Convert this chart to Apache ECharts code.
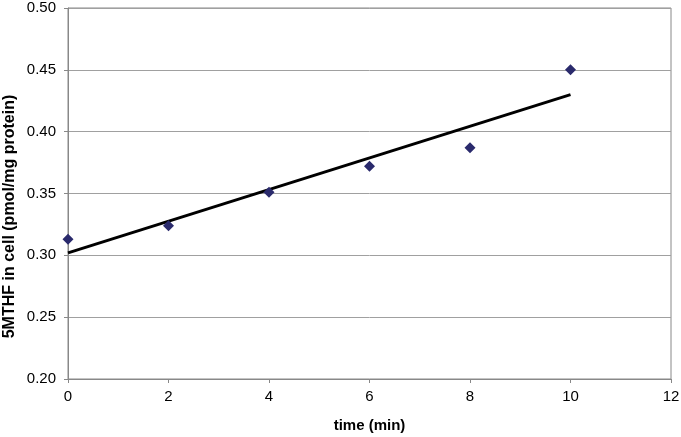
<!DOCTYPE html>
<html>
<head>
<meta charset="utf-8">
<style>
    html, body { margin: 0; padding: 0; background: #fff; }
    #chart { width: 681px; height: 437px; }
</style>
<script src="https://cdn.jsdelivr.net/npm/echarts@6/dist/echarts.min.js"></script>
</head>
<body>
<div id="chart"></div>
<script>
    // measured points
    var times = [0, 2, 4, 6, 8, 10];
    var mthf = [0.313, 0.324, 0.351, 0.372, 0.387, 0.450];
    // linear trend line end points
    var trendX = [0, 10];
    var trendY = [0.302, 0.430];

    var chart = echarts.init(document.getElementById('chart'));

    var option = {
        animation: false,
        grid: {
            left: 68,
            right: 10,
            top: 8,
            bottom: 58,
            outerBoundsMode: 'none',
            containLabel: false,
            show: true,
            borderColor: '#888',
            borderWidth: 1
        },
        xAxis: {
            type: 'value',
            min: 0,
            max: 12,
            interval: 2,
            name: 'time (min)',
            nameLocation: 'middle',
            nameGap: 39,
            nameTextStyle: { fontFamily: 'Liberation Sans', fontWeight: 'bold', fontSize: 15, color: '#000' },
            axisLine: { show: true, lineStyle: { color: '#888' } },
            axisTick: { show: true, length: 4, lineStyle: { color: '#888' } },
            axisLabel: { fontFamily: 'Liberation Sans', fontSize: 15, color: '#000', margin: 10 },
            splitLine: { show: false }
        },
        yAxis: {
            type: 'value',
            min: 0.20,
            max: 0.50,
            interval: 0.05,
            name: '5MTHF in cell (pmol/mg protein)',
            nameLocation: 'middle',
            nameGap: 50,
            nameMoveOverlap: false,
            nameTextStyle: {
                fontFamily: 'Liberation Sans', fontWeight: 'bold', fontSize: 16, color: '#000',
                padding: [0, 46, 0, 0]
            },
            axisLine: { show: true, lineStyle: { color: '#888' } },
            axisTick: { show: true, length: 4, lineStyle: { color: '#888' } },
            axisLabel: {
                fontFamily: 'Liberation Sans', fontSize: 15, color: '#000', margin: 12,
                formatter: function (v) { return v.toFixed(2); }
            },
            splitLine: { show: true, lineStyle: { color: '#a0a0a0', width: 1 } }
        },
        series: [
            {
                name: 'trend',
                type: 'line',
                data: trendX.map(function (x, i) { return [x, trendY[i]]; }),
                symbol: 'none',
                lineStyle: { color: '#000', width: 3 },
                z: 2
            },
            {
                name: '5MTHF',
                type: 'scatter',
                data: times.map(function (t, i) { return [t, mthf[i]]; }),
                symbol: 'diamond',
                symbolSize: [11, 11],
                itemStyle: { color: '#2a2a6c', opacity: 1 },
                z: 3
            }
        ]
    };

    chart.setOption(option);
</script>
</body>
</html>
